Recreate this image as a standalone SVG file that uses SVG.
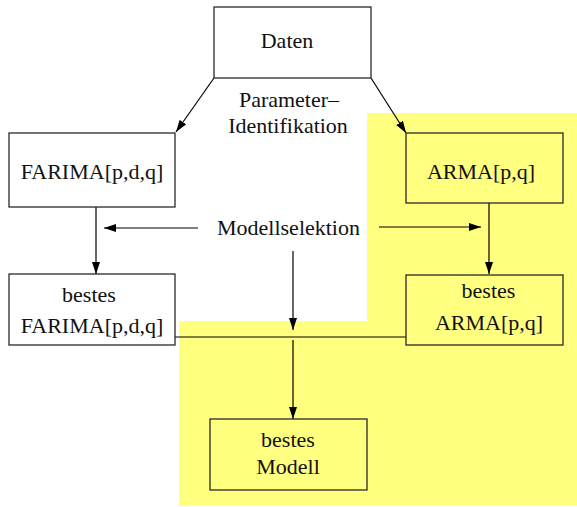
<svg xmlns="http://www.w3.org/2000/svg" width="577" height="507" viewBox="0 0 577 507">
<defs>
<style>
.box{fill:none;stroke:#2a2a2a;stroke-width:1.3}
.yb{fill:#ffff80;stroke:#2a2a2a;stroke-width:1.3}
.t{font-family:"Liberation Serif","Times New Roman",serif;font-size:22px;fill:#111;text-anchor:middle}
.c{fill:none;stroke:#000;stroke-width:1.2}
</style>
<marker id="ah" viewBox="0 0 12 8" refX="12" refY="4" markerWidth="12" markerHeight="8" markerUnits="userSpaceOnUse" orient="auto">
<path d="M0,0 L12,4 L0,8 Z" fill="#000"/>
</marker>
</defs>
<rect width="577" height="507" fill="#fff"/>
<polygon points="367,113 577,113 577,506 179,506 179,321 367,321" fill="#ffff80"/>
<g id="connectors">
<line class="c" x1="214" y1="78" x2="176" y2="132" marker-end="url(#ah)"/>
<line class="c" x1="371" y1="78" x2="406" y2="133" marker-end="url(#ah)"/>
<line class="c" x1="96" y1="207" x2="96" y2="274" marker-end="url(#ah)"/>
<line class="c" x1="489" y1="203" x2="489" y2="274" marker-end="url(#ah)"/>
<line class="c" x1="198" y1="228" x2="104" y2="228" marker-end="url(#ah)"/>
<line class="c" x1="379" y1="227" x2="481" y2="227" marker-end="url(#ah)"/>
<line class="c" x1="293" y1="251" x2="293" y2="330" marker-end="url(#ah)"/>
<line class="c" x1="175" y1="337" x2="406" y2="337"/>
<line class="c" x1="293" y1="340" x2="293" y2="419" marker-end="url(#ah)"/>
</g>
<g id="daten">
<rect class="box" x="214" y="7" width="157" height="71"/>
<text class="t" x="287" y="48">Daten</text>
</g>
<g id="param-label">
<text class="t" x="289" y="107">Parameter–</text>
<text class="t" x="288" y="133">Identifikation</text>
</g>
<g id="farima">
<rect class="box" x="9" y="133" width="166" height="74"/>
<text class="t" x="92" y="179">FARIMA[p,d,q]</text>
</g>
<g id="arma">
<rect class="yb" x="406" y="133" width="157" height="70"/>
<text class="t" x="481" y="179">ARMA[p,q]</text>
</g>
<g id="modellselektion-label">
<text class="t" x="288.5" y="235">Modellselektion</text>
</g>
<g id="bestes-farima">
<rect class="box" x="9" y="274" width="166" height="71"/>
<text class="t" x="89" y="302">bestes</text>
<text class="t" x="92" y="333">FARIMA[p,d,q]</text>
</g>
<g id="bestes-arma">
<rect class="yb" x="406" y="275" width="157" height="70"/>
<text class="t" x="488.5" y="298">bestes</text>
<text class="t" x="489" y="330">ARMA[p,q]</text>
</g>
<g id="bestes-modell">
<rect class="yb" x="210" y="419" width="157" height="71"/>
<text class="t" x="288" y="447">bestes</text>
<text class="t" x="288" y="474">Modell</text>
</g>
</svg>
